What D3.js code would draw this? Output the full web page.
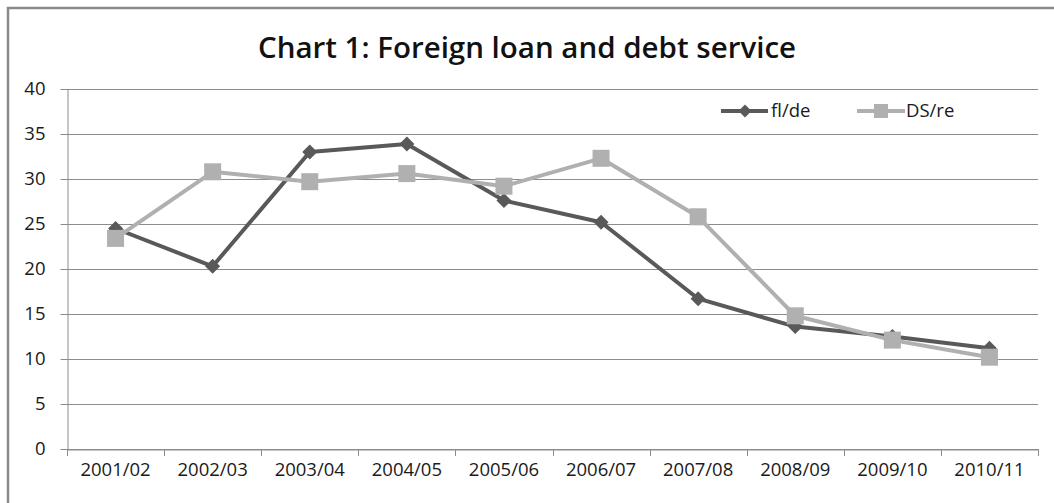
<!DOCTYPE html>
<html>
<head>
<meta charset="utf-8">
<script src="https://cdn.jsdelivr.net/npm/d3@7"></script>
<style>
  html, body { margin: 0; padding: 0; background: #fff; }
  svg { display: block; }
  text { font-family: "Open Sans", "DejaVu Sans", sans-serif; fill: #1a1a1a; }
</style>
</head>
<body>
<svg id="chart" width="1054" height="503"></svg>
<script>
// Fiscal years on the horizontal axis
const years = ["2001/02", "2002/03", "2003/04", "2004/05", "2005/06",
               "2006/07", "2007/08", "2008/09", "2009/10", "2010/11"];
// Foreign loan as share of domestic expenditure (fl/de)
const flDe = [24.5, 20.3, 33.0, 33.9, 27.6, 25.2, 16.7, 13.6, 12.5, 11.2];
// Debt service as share of revenue (DS/re)
const dsRe = [23.4, 30.8, 29.7, 30.6, 29.2, 32.3, 25.8, 14.8, 12.1, 10.2];
const yTicks = [0, 5, 10, 15, 20, 25, 30, 35, 40];
const seriesNames = ["fl/de", "DS/re"];

const svg = d3.select("#chart");
const W = 1054, H = 503;
const m = { left: 67, right: 1038, top: 89, bottom: 449 };
const labelSize = "18.5px";

// Outer chart frame
svg.append("rect")
  .attr("x", 8).attr("y", 8)
  .attr("width", W + 20).attr("height", H + 20)
  .attr("fill", "#fff")
  .attr("stroke", "#8a8a8a").attr("stroke-width", 2.5);

// Title
svg.append("text")
  .attr("x", 527).attr("y", 58)
  .attr("text-anchor", "middle")
  .style("font-size", "29.5px").style("font-weight", "600")
  .style("fill", "#111")
  .text("Chart 1: Foreign loan and debt service");

const x = d3.scaleBand().domain(years).range([m.left, m.right]);
const y = d3.scaleLinear().domain([0, 40]).range([m.bottom, m.top]);

// Horizontal gridlines
svg.append("g")
  .selectAll("line")
  .data(yTicks)
  .join("line")
  .attr("x1", m.left).attr("x2", m.right)
  .attr("y1", d => Math.round(y(d)) + 0.5).attr("y2", d => Math.round(y(d)) + 0.5)
  .attr("stroke", "#8c8c8c").attr("stroke-width", 1);

// Y axis
const yAxis = svg.append("g")
  .attr("transform", `translate(${m.left + 0.5},0)`)
  .call(d3.axisLeft(y).tickValues(yTicks).tickSize(7).tickPadding(15).tickSizeOuter(0));
yAxis.select(".domain").attr("stroke", "#8c8c8c");
yAxis.selectAll(".tick line").attr("stroke", "#8c8c8c");
yAxis.selectAll("text").style("font-size", labelSize).attr("fill", "#1a1a1a");

// X axis with ticks at category boundaries
const xAxis = svg.append("g")
  .attr("transform", `translate(0,${m.bottom + 0.5})`)
  .call(d3.axisBottom(x).tickSize(0).tickPadding(13));
xAxis.select(".domain").attr("stroke", "#8c8c8c");
xAxis.selectAll("text").style("font-size", labelSize).attr("fill", "#1a1a1a");
const bounds = years.map(d => x(d)).concat([x(years[years.length - 1]) + x.bandwidth()]);
svg.append("g")
  .selectAll("line")
  .data(bounds)
  .join("line")
  .attr("x1", d => Math.round(d) + 0.5).attr("x2", d => Math.round(d) + 0.5)
  .attr("y1", m.bottom).attr("y2", m.bottom + 7)
  .attr("stroke", "#8c8c8c");

const cx = d => x(d) + x.bandwidth() / 2;
const line = d3.line().x(d => cx(d.year)).y(d => y(d.v));

const darkCol = "#595959", lightCol = "#b0b0b0";
const dsData = years.map((yr, i) => ({ year: yr, v: dsRe[i] }));
const flData = years.map((yr, i) => ({ year: yr, v: flDe[i] }));

const diamond = s => `M0,${-s} L${s},0 L0,${s} L${-s},0 Z`;

// fl/de series
svg.append("path").datum(flData)
  .attr("d", line).attr("fill", "none")
  .attr("stroke", darkCol).attr("stroke-width", 4).attr("stroke-linejoin", "round");
svg.append("g").selectAll("path").data(flData).join("path")
  .attr("transform", d => `translate(${cx(d.year)},${y(d.v)})`)
  .attr("d", diamond(7.5)).attr("fill", darkCol);

// DS/re series
svg.append("path").datum(dsData)
  .attr("d", line).attr("fill", "none")
  .attr("stroke", lightCol).attr("stroke-width", 4).attr("stroke-linejoin", "round");
svg.append("g").selectAll("rect").data(dsData).join("rect")
  .attr("x", d => cx(d.year) - 8.5).attr("y", d => y(d.v) - 8.5)
  .attr("width", 17).attr("height", 17).attr("fill", lightCol);

// Legend
const legend = svg.append("g").attr("transform", "translate(0,111)");
const lg1 = legend.append("g");
lg1.append("line").attr("x1", 721).attr("x2", 768).attr("y1", 0).attr("y2", 0)
  .attr("stroke", darkCol).attr("stroke-width", 4);
lg1.append("path").attr("transform", "translate(745,0)").attr("d", diamond(6.5)).attr("fill", darkCol);
lg1.append("text").attr("x", 771).attr("y", 6).style("font-size", labelSize).text(seriesNames[0]);
const lg2 = legend.append("g");
lg2.append("line").attr("x1", 857).attr("x2", 905).attr("y1", 0).attr("y2", 0)
  .attr("stroke", lightCol).attr("stroke-width", 4);
lg2.append("rect").attr("x", 874).attr("y", -7).attr("width", 14).attr("height", 14).attr("fill", lightCol);
lg2.append("text").attr("x", 906).attr("y", 6).style("font-size", labelSize).text(seriesNames[1]);
</script>
</body>
</html>
